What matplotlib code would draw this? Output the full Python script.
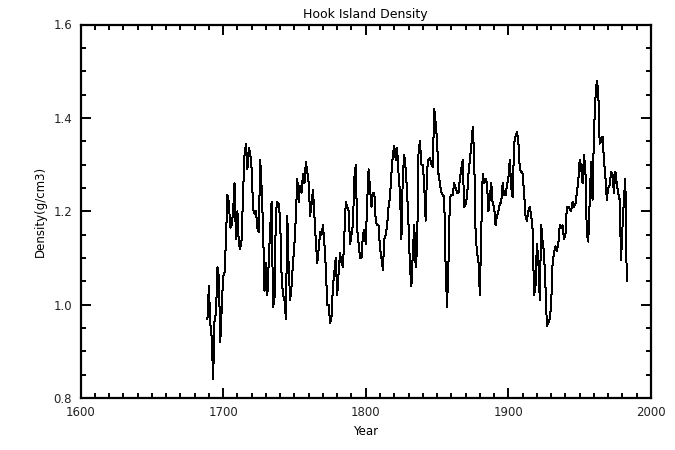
import matplotlib
matplotlib.use("Agg")
import matplotlib.pyplot as plt
from matplotlib.ticker import MultipleLocator
import numpy as np

start_year = 1689
density = [
    0.97, 1.04, 0.96, 0.93, 0.84, 0.97, 0.98, 1.08, 1.06, 0.92,   # 1689-1698
    0.99, 1.06, 1.07, 1.14, 1.235, 1.22, 1.165, 1.17, 1.20, 1.26,  # 1699-1708
    1.14, 1.20, 1.13, 1.12, 1.14, 1.24, 1.32, 1.345, 1.29, 1.335,  # 1709-1718
    1.325, 1.29, 1.205, 1.195, 1.20, 1.165, 1.155, 1.31, 1.25, 1.165,  # 1719-1728
    1.03, 1.09, 1.02, 1.095, 1.165, 1.22, 0.995, 1.01, 1.20, 1.22,  # 1729-1738
    1.215, 1.18, 1.06, 1.02, 1.01, 0.97, 1.19, 1.075, 1.01, 1.04,  # 1739-1748
    1.09, 1.13, 1.19, 1.27, 1.22, 1.255, 1.24, 1.28, 1.26, 1.305,  # 1749-1758
    1.285, 1.26, 1.19, 1.215, 1.245, 1.19, 1.135, 1.09, 1.12, 1.155,  # 1759-1768
    1.15, 1.17, 1.13, 1.08, 1.00, 1.00, 0.96, 0.975, 1.04, 1.07,  # 1769-1778
    1.10, 1.02, 1.07, 1.11, 1.09, 1.08, 1.15, 1.22, 1.21, 1.20,  # 1779-1788
    1.13, 1.15, 1.17, 1.27, 1.30, 1.16, 1.13, 1.10, 1.10, 1.15,  # 1789-1798
    1.16, 1.13, 1.22, 1.29, 1.25, 1.21, 1.24, 1.24, 1.18, 1.17,  # 1799-1808
    1.17, 1.12, 1.10, 1.075, 1.14, 1.15, 1.17, 1.21, 1.23, 1.28,  # 1809-1818
    1.32, 1.34, 1.31, 1.335, 1.28, 1.24, 1.14, 1.28, 1.32, 1.29,  # 1819-1828
    1.24, 1.17, 1.08, 1.04, 1.11, 1.17, 1.08, 1.12, 1.325, 1.35,  # 1829-1838
    1.30, 1.30, 1.255, 1.18, 1.29, 1.31, 1.315, 1.30, 1.295, 1.42,  # 1839-1848
    1.39, 1.35, 1.28, 1.26, 1.24, 1.235, 1.23, 1.08, 0.995, 1.09,  # 1849-1858
    1.23, 1.235, 1.235, 1.26, 1.25, 1.24, 1.24, 1.27, 1.29, 1.31,  # 1859-1868
    1.21, 1.215, 1.23, 1.28, 1.31, 1.34, 1.38, 1.32, 1.155, 1.11,  # 1869-1878
    1.095, 1.02, 1.16, 1.28, 1.26, 1.27, 1.26, 1.20, 1.23, 1.26,  # 1879-1888
    1.215, 1.21, 1.17, 1.19, 1.20, 1.215, 1.22, 1.26, 1.235, 1.235,  # 1889-1898
    1.255, 1.27, 1.31, 1.25, 1.23, 1.345, 1.36, 1.37, 1.35, 1.29,  # 1899-1908
    1.285, 1.28, 1.24, 1.19, 1.18, 1.20, 1.21, 1.19, 1.16, 1.02,  # 1909-1918
    1.04, 1.13, 1.095, 1.01, 1.17, 1.135, 1.11, 1.04, 0.955, 0.96,  # 1919-1928
    0.97, 1.00, 1.09, 1.11, 1.125, 1.115, 1.13, 1.17, 1.165, 1.17,  # 1929-1938
    1.14, 1.15, 1.21, 1.21, 1.205, 1.20, 1.22, 1.21, 1.215, 1.24,  # 1939-1948
    1.265, 1.31, 1.295, 1.26, 1.32, 1.29, 1.15, 1.135, 1.22, 1.305,  # 1949-1958
    1.225, 1.37, 1.44, 1.48, 1.46, 1.345, 1.35, 1.36, 1.31, 1.275,  # 1959-1968
    1.225, 1.25, 1.255, 1.285, 1.28, 1.24, 1.285, 1.26, 1.24, 1.225,  # 1969-1978
    1.095, 1.165, 1.225, 1.27, 1.05,  # 1979-1983
]
years = np.arange(start_year, start_year + len(density))

title = "Hook Island Density"
xlabel = "Year"
ylabel = "Density(g/cm3)"
xticks = [1600, 1700, 1800, 1900, 2000]
yticks = [0.8, 1.0, 1.2, 1.4, 1.6]

fig = plt.figure(figsize=(6.75, 4.5), dpi=100)
ax = fig.add_axes([80.5 / 675, 1 - 398 / 450, (651 - 80.5) / 675, (398 - 24.5) / 450])
ax.plot(years, density, color="black", linewidth=0.72, antialiased=False)

ax.set_xlim(1600, 2000)
ax.set_ylim(0.8, 1.6)
ax.set_xticks(xticks)
ax.set_yticks(yticks)
ax.set_xticklabels([str(t) for t in xticks])
ax.set_yticklabels([f"{t:.1f}" for t in yticks])
ax.xaxis.set_minor_locator(MultipleLocator(10))
ax.yaxis.set_minor_locator(MultipleLocator(0.05))
ax.tick_params(which="major", direction="in", length=7, width=1.4,
               top=True, right=True, labelsize=8.5, pad=6, labelcolor="#222222")
ax.tick_params(which="minor", direction="in", length=3.5, width=1.4,
               top=True, right=True)
for s in ax.spines.values():
    s.set_linewidth(1.6)

ax.set_title(title, fontsize=9, pad=5)
ax.set_xlabel(xlabel, fontsize=8.5, labelpad=4)
ax.set_ylabel(ylabel, fontsize=8.5, labelpad=5)

fig.savefig("out.png", dpi=100)
